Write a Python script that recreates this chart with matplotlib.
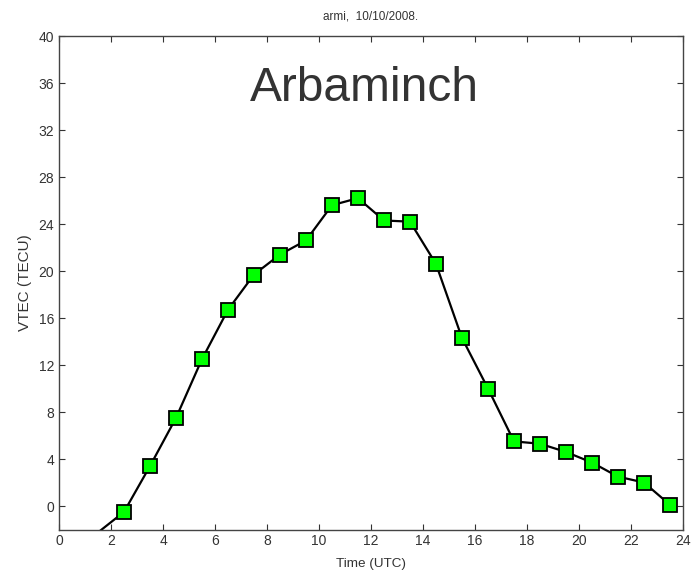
import matplotlib.pyplot as plt

plt.rcParams['font.family'] = ['Liberation Sans', 'DejaVu Sans']

# hourly VTEC at Arba Minch station
hours = [0.5, 2.5, 3.5, 4.5, 5.5, 6.5, 7.5, 8.5, 9.5, 10.5, 11.5, 12.5,
         13.5, 14.5, 15.5, 16.5, 17.5, 18.5, 19.5, 20.5, 21.5, 22.5, 23.5]
vtec = [-4.0, -0.5, 3.4, 7.5, 12.5, 16.7, 19.7, 21.4, 22.6, 25.6, 26.2, 24.3,
        24.2, 20.6, 14.3, 10.0, 5.5, 5.3, 4.6, 3.7, 2.5, 2.0, 0.1]
xticks = list(range(0, 25, 2))
yticks = list(range(0, 41, 4))

fig = plt.figure(figsize=(6.95, 5.76), dpi=100)
ax = fig.add_axes([0.0849, 0.0807, 0.8978, 0.8568])

ax.plot(hours, vtec, color='black', linewidth=1.6, marker='s',
        markersize=9.5, markerfacecolor='#00ff00', markeredgecolor='black',
        markeredgewidth=1.3)

ax.set_xlim(0, 24)
ax.set_ylim(-2, 40)
ax.set_xticks(xticks)
ax.set_yticks(yticks)
ax.tick_params(direction='in', top=True, right=True, labelsize=10,
               length=4, width=0.8, colors='#333333', labelcolor='#333333')
for s in ax.spines.values():
    s.set_color('#444444')
    s.set_linewidth(1.0)

ax.set_xlabel('Time (UTC)', fontsize=9.7, color='#333333', labelpad=7)
ax.set_ylabel('VTEC (TECU)', fontsize=11, color='#333333', labelpad=5)
ax.set_title('armi,  10/10/2008.', fontsize=8.5, color='#333333', pad=12)

ax.text(0.49, 0.868, 'Arbaminch', transform=ax.transAxes, fontsize=34.5,
        color='#333333', ha='center', va='baseline')

fig.savefig('out.png', dpi=100)
